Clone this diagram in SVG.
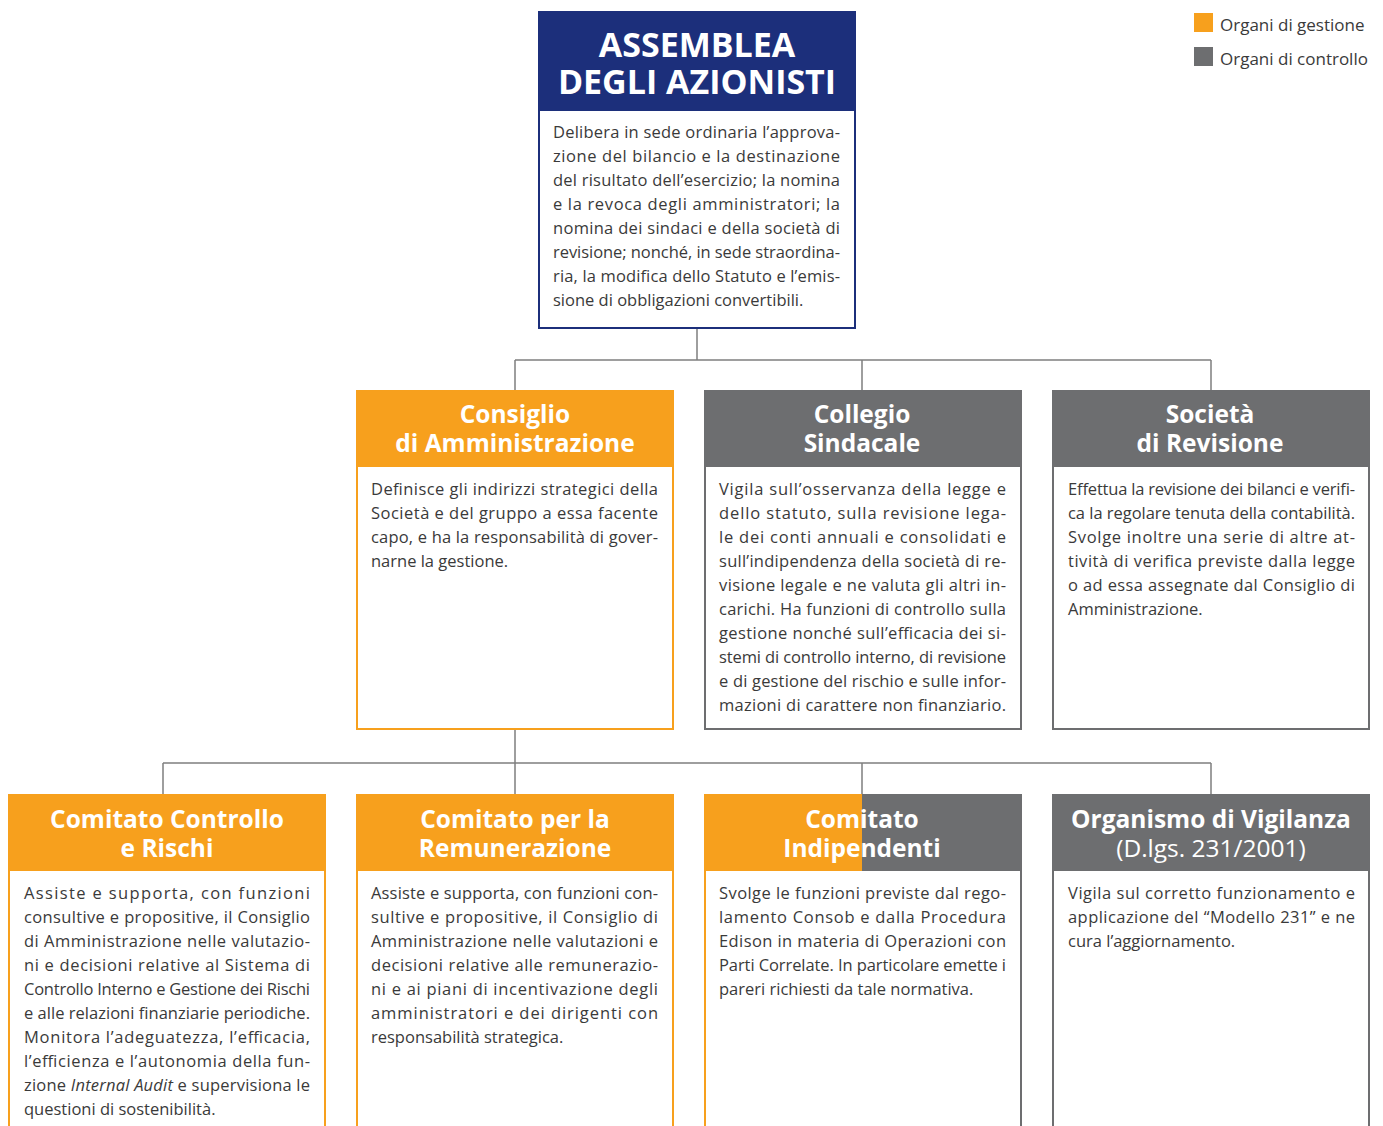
<svg xmlns="http://www.w3.org/2000/svg" width="1383" height="1126" viewBox="0 0 1383 1126">
<style>
.hdr{font-family:"Open Sans","Liberation Sans",sans-serif;font-weight:700;fill:#fff;text-anchor:middle}
.t{font-family:"Open Sans","Liberation Sans",sans-serif;font-size:16.5px;fill:#3a3a3a}
.lg{font-family:"Open Sans","Liberation Sans",sans-serif;font-size:17px;fill:#3a3a3a}
.or{fill:#f7a01d}.gr{fill:#6d6e70}
.bo{fill:#fff;stroke:#f7a01d;stroke-width:2}
.bg{fill:#fff;stroke:#6d6e70;stroke-width:2}
.conn{stroke:#7f7f7f;stroke-width:1.5;fill:none}
</style>
<rect width="1383" height="1126" fill="#fff"/>
<g id="legend">
<rect x="1194" y="13" width="19" height="19" class="or"/>
<text x="1220" y="31" class="lg">Organi di gestione</text>
<rect x="1194" y="47" width="19" height="19" class="gr"/>
<text x="1220" y="65" class="lg">Organi di controllo</text>
</g>
<g id="connectors">
<path class="conn" d="M697 328V360M515 360H1211M515 360V390M862 360V390M1211 360V390"/>
<path class="conn" d="M515 729V763M163 763H1211M163 763V794M515 763V794M862 763V794M1211 763V794"/>
</g>
<g id="assemblea">
<rect x="539" y="110" width="316" height="218" fill="#fff" stroke="#1c2f7b" stroke-width="2"/>
<rect x="538" y="11" width="318" height="100" fill="#1c2f7b"/>
<text x="697" y="57" class="hdr" font-size="34">ASSEMBLEA</text>
<text x="697" y="94" class="hdr" font-size="34">DEGLI AZIONISTI</text>
<text class="t" x="553" y="138" textLength="287" lengthAdjust="spacing">Delibera in sede ordinaria l’approva-</text>
<text class="t" x="553" y="162" textLength="287" lengthAdjust="spacing">zione del bilancio e la destinazione</text>
<text class="t" x="553" y="186" textLength="287" lengthAdjust="spacing">del risultato dell’esercizio; la nomina</text>
<text class="t" x="553" y="210" textLength="287" lengthAdjust="spacing">e la revoca degli amministratori; la</text>
<text class="t" x="553" y="234" textLength="287" lengthAdjust="spacing">nomina dei sindaci e della società di</text>
<text class="t" x="553" y="258" textLength="287" lengthAdjust="spacing">revisione; nonché, in sede straordina-</text>
<text class="t" x="553" y="282" textLength="287" lengthAdjust="spacing">ria, la modifica dello Statuto e l’emis-</text>
<text class="t" x="553" y="306">sione di obbligazioni convertibili.</text>
</g>
<g id="consiglio">
<rect x="357" y="466" width="316" height="263" class="bo"/>
<rect x="356" y="390" width="318" height="77" class="or"/>
<text x="515" y="423" class="hdr" font-size="24.5">Consiglio</text>
<text x="515" y="452" class="hdr" font-size="24.5">di Amministrazione</text>
<text class="t" x="371" y="495" textLength="287" lengthAdjust="spacing">Definisce gli indirizzi strategici della</text>
<text class="t" x="371" y="519" textLength="287" lengthAdjust="spacing">Società e del gruppo a essa facente</text>
<text class="t" x="371" y="543" textLength="287" lengthAdjust="spacing">capo, e ha la responsabilità di gover-</text>
<text class="t" x="371" y="567">narne la gestione.</text>
</g>
<g id="collegio">
<rect x="705" y="466" width="316" height="263" class="bg"/>
<rect x="704" y="390" width="318" height="77" class="gr"/>
<text x="862" y="423" class="hdr" font-size="24.5">Collegio</text>
<text x="862" y="452" class="hdr" font-size="24.5">Sindacale</text>
<text class="t" x="719" y="495" textLength="287" lengthAdjust="spacing">Vigila sull’osservanza della legge e</text>
<text class="t" x="719" y="519" textLength="287" lengthAdjust="spacing">dello statuto, sulla revisione lega-</text>
<text class="t" x="719" y="543" textLength="287" lengthAdjust="spacing">le dei conti annuali e consolidati e</text>
<text class="t" x="719" y="567" textLength="287" lengthAdjust="spacing">sull’indipendenza della società di re-</text>
<text class="t" x="719" y="591" textLength="287" lengthAdjust="spacing">visione legale e ne valuta gli altri in-</text>
<text class="t" x="719" y="615" textLength="287" lengthAdjust="spacing">carichi. Ha funzioni di controllo sulla</text>
<text class="t" x="719" y="639" textLength="287" lengthAdjust="spacing">gestione nonché sull’efficacia dei si-</text>
<text class="t" x="719" y="663" textLength="287" lengthAdjust="spacing">stemi di controllo interno, di revisione</text>
<text class="t" x="719" y="687" textLength="287" lengthAdjust="spacing">e di gestione del rischio e sulle infor-</text>
<text class="t" x="719" y="711" textLength="287" lengthAdjust="spacing">mazioni di carattere non finanziario.</text>
</g>
<g id="revisione">
<rect x="1053" y="466" width="316" height="263" class="bg"/>
<rect x="1052" y="390" width="318" height="77" class="gr"/>
<text x="1210" y="423" class="hdr" font-size="24.5">Società</text>
<text x="1210" y="452" class="hdr" font-size="24.5">di Revisione</text>
<text class="t" x="1068" y="495" textLength="287" lengthAdjust="spacing">Effettua la revisione dei bilanci e verifi-</text>
<text class="t" x="1068" y="519" textLength="287" lengthAdjust="spacing">ca la regolare tenuta della contabilità.</text>
<text class="t" x="1068" y="543" textLength="287" lengthAdjust="spacing">Svolge inoltre una serie di altre at-</text>
<text class="t" x="1068" y="567" textLength="287" lengthAdjust="spacing">tività di verifica previste dalla legge</text>
<text class="t" x="1068" y="591" textLength="287" lengthAdjust="spacing">o ad essa assegnate dal Consiglio di</text>
<text class="t" x="1068" y="615">Amministrazione.</text>
</g>
<g id="controllo-rischi">
<rect x="9" y="870" width="316" height="280" class="bo"/>
<rect x="8" y="794" width="318" height="77" class="or"/>
<text x="167" y="828" class="hdr" font-size="24.5">Comitato Controllo</text>
<text x="167" y="857" class="hdr" font-size="24.5">e Rischi</text>
<text class="t" x="24" y="899" textLength="286" lengthAdjust="spacing">Assiste e supporta, con funzioni</text>
<text class="t" x="24" y="923" textLength="286" lengthAdjust="spacing">consultive e propositive, il Consiglio</text>
<text class="t" x="24" y="947" textLength="286" lengthAdjust="spacing">di Amministrazione nelle valutazio-</text>
<text class="t" x="24" y="971" textLength="286" lengthAdjust="spacing">ni e decisioni relative al Sistema di</text>
<text class="t" x="24" y="995" textLength="286" lengthAdjust="spacing">Controllo Interno e Gestione dei Rischi</text>
<text class="t" x="24" y="1019" textLength="286" lengthAdjust="spacing">e alle relazioni finanziarie periodiche.</text>
<text class="t" x="24" y="1043" textLength="286" lengthAdjust="spacing">Monitora l’adeguatezza, l’efficacia,</text>
<text class="t" x="24" y="1067" textLength="286" lengthAdjust="spacing">l’efficienza e l’autonomia della fun-</text>
<text class="t" x="24" y="1091" textLength="286" lengthAdjust="spacing">zione <tspan font-style="italic">Internal Audit</tspan> e supervisiona le</text>
<text class="t" x="24" y="1115">questioni di sostenibilità.</text>
</g>
<g id="remunerazione">
<rect x="357" y="870" width="316" height="280" class="bo"/>
<rect x="356" y="794" width="318" height="77" class="or"/>
<text x="515" y="828" class="hdr" font-size="24.5">Comitato per la</text>
<text x="515" y="857" class="hdr" font-size="24.5">Remunerazione</text>
<text class="t" x="371" y="899" textLength="287" lengthAdjust="spacing">Assiste e supporta, con funzioni con-</text>
<text class="t" x="371" y="923" textLength="287" lengthAdjust="spacing">sultive e propositive, il Consiglio di</text>
<text class="t" x="371" y="947" textLength="287" lengthAdjust="spacing">Amministrazione nelle valutazioni e</text>
<text class="t" x="371" y="971" textLength="287" lengthAdjust="spacing">decisioni relative alle remunerazio-</text>
<text class="t" x="371" y="995" textLength="287" lengthAdjust="spacing">ni e ai piani di incentivazione degli</text>
<text class="t" x="371" y="1019" textLength="287" lengthAdjust="spacing">amministratori e dei dirigenti con</text>
<text class="t" x="371" y="1043">responsabilità strategica.</text>
</g>
<g id="indipendenti">
<line x1="705" y1="870" x2="705" y2="1126" stroke="#f7a01d" stroke-width="2"/>
<line x1="1021" y1="870" x2="1021" y2="1126" stroke="#6d6e70" stroke-width="2"/>
<rect x="704" y="794" width="158" height="77" class="or"/>
<rect x="862" y="794" width="160" height="77" class="gr"/>
<text x="862" y="828" class="hdr" font-size="24.5">Comitato</text>
<text x="862" y="857" class="hdr" font-size="24.5">Indipendenti</text>
<text class="t" x="719" y="899" textLength="287" lengthAdjust="spacing">Svolge le funzioni previste dal rego-</text>
<text class="t" x="719" y="923" textLength="287" lengthAdjust="spacing">lamento Consob e dalla Procedura</text>
<text class="t" x="719" y="947" textLength="287" lengthAdjust="spacing">Edison in materia di Operazioni con</text>
<text class="t" x="719" y="971" textLength="287" lengthAdjust="spacing">Parti Correlate. In particolare emette i</text>
<text class="t" x="719" y="995">pareri richiesti da tale normativa.</text>
</g>
<g id="vigilanza">
<rect x="1053" y="870" width="316" height="280" class="bg"/>
<rect x="1052" y="794" width="318" height="77" class="gr"/>
<text x="1211" y="828" class="hdr" font-size="24.5">Organismo di Vigilanza</text>
<text x="1211" y="857" class="hdr" font-size="24.5" style="font-weight:400">(D.lgs. 231/2001)</text>
<text class="t" x="1068" y="899" textLength="287" lengthAdjust="spacing">Vigila sul corretto funzionamento e</text>
<text class="t" x="1068" y="923" textLength="287" lengthAdjust="spacing">applicazione del “Modello 231” e ne</text>
<text class="t" x="1068" y="947">cura l’aggiornamento.</text>
</g>
</svg>
